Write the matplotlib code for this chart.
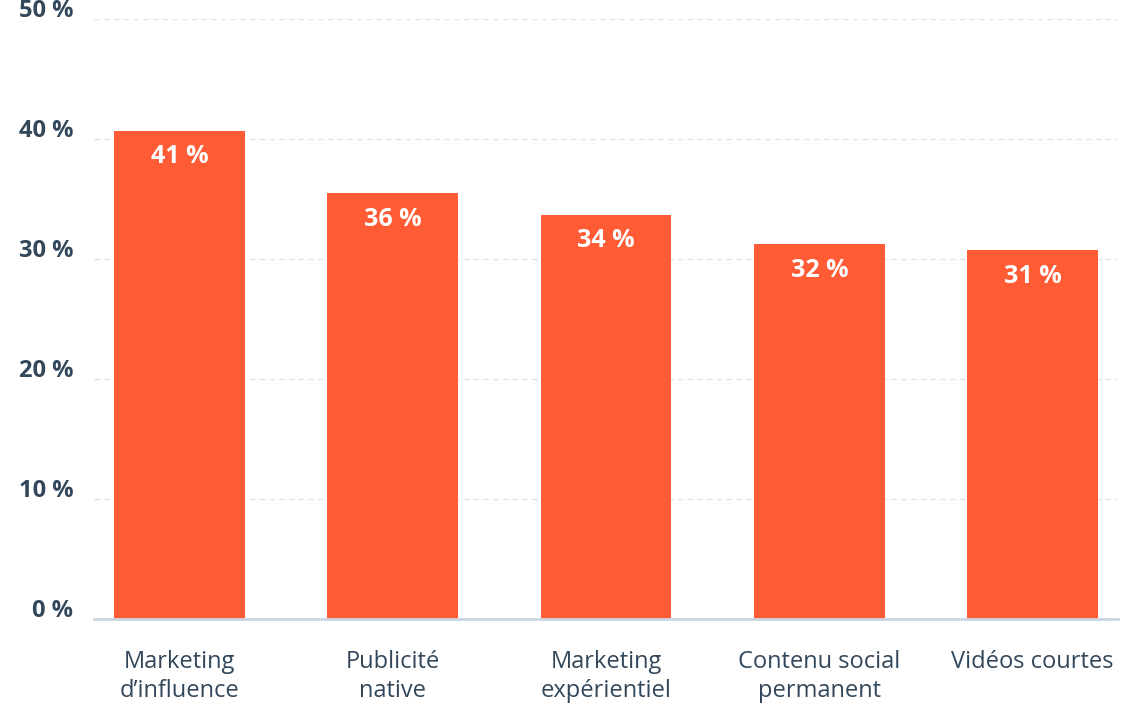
import matplotlib
matplotlib.use("Agg")
import matplotlib.pyplot as plt
import matplotlib.transforms as mtransforms

categories = ["Marketing\nd’influence", "Publicité\nnative", "Marketing\nexpérientiel",
              "Contenu social\npermanent", "Vidéos courtes"]
values = [40.7, 35.5, 33.7, 31.25, 30.75]
value_labels = ["41 %", "36 %", "34 %", "32 %", "31 %"]
yticks = [0, 10, 20, 30, 40, 50]
ytick_labels = ["0 %", "10 %", "20 %", "30 %", "40 %", "50 %"]

BAR = "#FF5C35"
TXT = "#33475B"
GRID = "#DFE3EB"
BASE = "#CBD6E2"
FONT = ["Open Sans", "DejaVu Sans"]

plt.rcParams["font.family"] = FONT

fig = plt.figure(figsize=(11.21, 7.04), dpi=100)
ax = fig.add_axes([94 / 1121, 1 - 619 / 704, (1118 - 94) / 1121, (619 - 19) / 704])

x = list(range(len(categories)))
ax.bar(x, values, width=0.614, color=BAR, zorder=3)

for xi, v, lab in zip(x, values, value_labels):
    ax.annotate(lab, (xi, v), xytext=(0, -19), textcoords="offset points",
                ha="center", va="center", color="white", fontsize=18,
                fontweight="bold", zorder=4)

ax.set_xlim(-0.4, 4.4)
ax.set_ylim(0, 50)
ax.set_yticks(yticks)
ax.set_yticklabels(ytick_labels, fontsize=17, fontweight="bold", color=TXT)
ax.set_xticks(x)
ax.set_xticklabels(categories, fontsize=17, color=TXT, linespacing=1.28)

for y in yticks[1:]:
    ax.axhline(y, color=GRID, linestyle=(0, (4, 3)), linewidth=1.0, zorder=1)

for s in ["top", "right", "left"]:
    ax.spines[s].set_visible(False)
ax.spines["bottom"].set_color(BASE)
ax.spines["bottom"].set_linewidth(2)
ax.spines["bottom"].set_zorder(5)

ax.tick_params(axis="y", length=0, pad=15)
ax.tick_params(axis="x", length=0, pad=22)

off = mtransforms.ScaledTranslation(0, 11 / 100, fig.dpi_scale_trans)
for lab in ax.get_yticklabels():
    lab.set_transform(lab.get_transform() + off)

fig.savefig("out.png", dpi=100, facecolor="white")
